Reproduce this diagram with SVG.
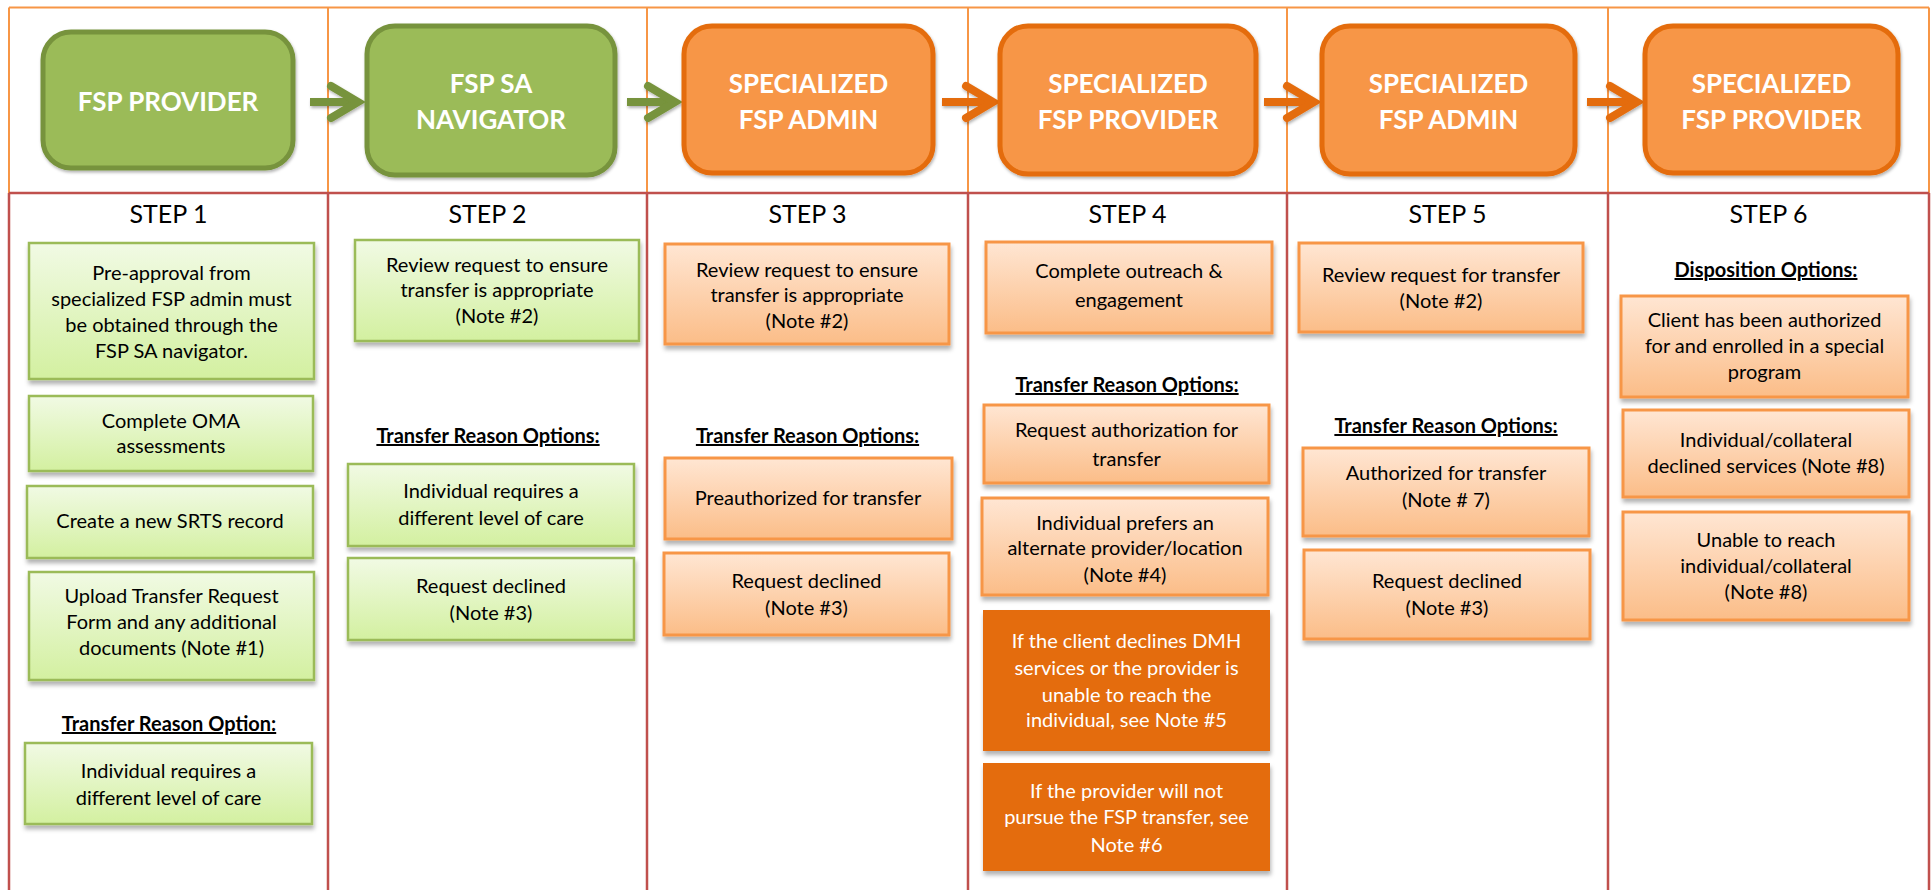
<svg xmlns="http://www.w3.org/2000/svg" width="1931" height="890" viewBox="0 0 1931 890">
<defs>
<linearGradient id="gG" x1="0" y1="0" x2="0" y2="1"><stop offset="0" stop-color="#F1FAE4"/><stop offset="1" stop-color="#D3F0A0"/></linearGradient>
<linearGradient id="gO" x1="0" y1="0" x2="0" y2="1"><stop offset="0" stop-color="#FFE6D3"/><stop offset="1" stop-color="#FBBD88"/></linearGradient>
<filter id="sh" x="-10%" y="-10%" width="120%" height="130%"><feDropShadow dx="1" dy="4" stdDeviation="2" flood-color="#000" flood-opacity="0.3"/></filter>
<filter id="sh2" x="-20%" y="-30%" width="140%" height="160%"><feDropShadow dx="1" dy="2" stdDeviation="1.5" flood-color="#000" flood-opacity="0.3"/></filter>
<filter id="sh3" filterUnits="userSpaceOnUse" x="0" y="0" width="1931" height="200"><feDropShadow dx="1" dy="2" stdDeviation="1.5" flood-color="#000" flood-opacity="0.3"/></filter>
<marker id="mG" markerUnits="userSpaceOnUse" markerWidth="44" markerHeight="44" refX="32" refY="22" orient="auto" overflow="visible"><path d="M5,6 L32,22 L5,38" fill="none" stroke="#77933C" stroke-width="8" stroke-linecap="round"/></marker>
<marker id="mO" markerUnits="userSpaceOnUse" markerWidth="44" markerHeight="44" refX="32" refY="22" orient="auto" overflow="visible"><path d="M5,6 L32,22 L5,38" fill="none" stroke="#E46C0A" stroke-width="8" stroke-linecap="round"/></marker>
</defs>
<style>
.hg{fill:#9BBB59;stroke:#77933C;stroke-width:5}
.ho{fill:#F79646;stroke:#E46C0A;stroke-width:5}
.ht{font-family:Lato,"Liberation Sans",sans-serif;font-weight:bold;font-size:26px;fill:#fff;text-anchor:middle}
.st{font-family:Lato,"Liberation Sans",sans-serif;font-size:25px;fill:#000;text-anchor:middle}
.bg{fill:url(#gG);stroke:#9BBB59;stroke-width:2.5}
.bo{fill:url(#gO);stroke:#F79646;stroke-width:3}
.bd{fill:#E46C0A}
.t{font-family:Lato,"Liberation Sans",sans-serif;font-size:20px;fill:#000;text-anchor:middle}
.tw{fill:#fff}
.lb{font-family:Lato,"Liberation Sans",sans-serif;font-size:20px;font-weight:bold;fill:#000;text-anchor:middle;text-decoration:underline}
.fo{stroke:#F79646;stroke-width:2;fill:none}
.fr{stroke:#C0504D;stroke-width:2.5;fill:none}
.ag{stroke:#77933C;stroke-width:8;fill:none;marker-end:url(#mG)}
.ao{stroke:#E46C0A;stroke-width:8;fill:none;marker-end:url(#mO)}
</style>
<rect width="1931" height="890" fill="#fff"/>
<g id="frame">
<path class="fo" d="M9,7.5 H1929 M9,7.5 V193 M328,7.5 V193 M647,7.5 V193 M968,7.5 V193 M1287,7.5 V193 M1608,7.5 V193 M1929,7.5 V193"/>
<path class="fr" d="M9,193 H1929 M9,193 V890 M328,193 V890 M647,193 V890 M968,193 V890 M1287,193 V890 M1608,193 V890 M1929,193 V890"/>
</g>
<g id="connectors" filter="url(#sh3)">
<path class="ag" d="M310,102 H358"/>
<path class="ag" d="M627,102 H675"/>
<path class="ao" d="M942,102 H993"/>
<path class="ao" d="M1264,102 H1314"/>
<path class="ao" d="M1587,102 H1637"/>
</g>
<g id="h1"><rect class="hg" x="43" y="32" width="250" height="136" rx="28" filter="url(#sh2)"/><text class="ht" x="168" y="111">FSP PROVIDER</text></g>
<g id="h2"><rect class="hg" x="367" y="26" width="248" height="149" rx="28" filter="url(#sh2)"/><text class="ht" x="491" y="93">FSP SA</text><text class="ht" x="491" y="129">NAVIGATOR</text></g>
<g id="h3"><rect class="ho" x="684" y="26" width="249" height="147" rx="28" filter="url(#sh2)"/><text class="ht" x="808.5" y="93">SPECIALIZED</text><text class="ht" x="808.5" y="129">FSP ADMIN</text></g>
<g id="h4"><rect class="ho" x="1000" y="26" width="256" height="148" rx="28" filter="url(#sh2)"/><text class="ht" x="1128" y="93">SPECIALIZED</text><text class="ht" x="1128" y="129">FSP PROVIDER</text></g>
<g id="h5"><rect class="ho" x="1322" y="26" width="253" height="148" rx="28" filter="url(#sh2)"/><text class="ht" x="1448.5" y="93">SPECIALIZED</text><text class="ht" x="1448.5" y="129">FSP ADMIN</text></g>
<g id="h6"><rect class="ho" x="1645" y="26" width="253" height="147" rx="28" filter="url(#sh2)"/><text class="ht" x="1771.5" y="93">SPECIALIZED</text><text class="ht" x="1771.5" y="129">FSP PROVIDER</text></g>
<g id="steps">
<text class="st" x="168.5" y="223">STEP 1</text>
<text class="st" x="487.5" y="223">STEP 2</text>
<text class="st" x="807.5" y="223">STEP 3</text>
<text class="st" x="1127.5" y="223">STEP 4</text>
<text class="st" x="1447.5" y="223">STEP 5</text>
<text class="st" x="1768.5" y="223">STEP 6</text>
</g>
<g id="c1a"><rect class="bg" x="29" y="243" width="285" height="136" filter="url(#sh)"/><text class="t" x="171.5" y="280">Pre-approval from</text><text class="t" x="171.5" y="306">specialized FSP admin must</text><text class="t" x="171.5" y="332">be obtained through the</text><text class="t" x="171.5" y="358">FSP SA navigator.</text></g>
<g id="c1b"><rect class="bg" x="29" y="396" width="284" height="75" filter="url(#sh)"/><text class="t" x="171" y="428">Complete OMA</text><text class="t" x="171" y="453">assessments</text></g>
<g id="c1c"><rect class="bg" x="27" y="486" width="286" height="72" filter="url(#sh)"/><text class="t" x="170" y="528">Create a new SRTS record</text></g>
<g id="c1d"><rect class="bg" x="29" y="572" width="285" height="108" filter="url(#sh)"/><text class="t" x="171.5" y="603">Upload Transfer Request</text><text class="t" x="171.5" y="629">Form and any additional</text><text class="t" x="171.5" y="655">documents (Note #1)</text></g>
<text id="l1" class="lb" x="169" y="731">Transfer Reason Option:</text>
<g id="c1e"><rect class="bg" x="25" y="743" width="287" height="81" filter="url(#sh)"/><text class="t" x="168.5" y="778">Individual requires a</text><text class="t" x="168.5" y="805">different level of care</text></g>
<g id="c2a"><rect class="bg" x="355" y="240" width="284" height="101" filter="url(#sh)"/><text class="t" x="497" y="272">Review request to ensure</text><text class="t" x="497" y="297">transfer is appropriate</text><text class="t" x="497" y="323">(Note #2)</text></g>
<text id="l2" class="lb" x="488" y="443">Transfer Reason Options:</text>
<g id="c2b"><rect class="bg" x="348" y="464" width="286" height="82" filter="url(#sh)"/><text class="t" x="491" y="498">Individual requires a</text><text class="t" x="491" y="525">different level of care</text></g>
<g id="c2c"><rect class="bg" x="348" y="558" width="286" height="82" filter="url(#sh)"/><text class="t" x="491" y="593">Request declined</text><text class="t" x="491" y="620">(Note #3)</text></g>
<g id="c3a"><rect class="bo" x="665" y="244" width="284" height="100" filter="url(#sh)"/><text class="t" x="807" y="277">Review request to ensure</text><text class="t" x="807" y="302">transfer is appropriate</text><text class="t" x="807" y="328">(Note #2)</text></g>
<text id="l3" class="lb" x="807.5" y="443">Transfer Reason Options:</text>
<g id="c3b"><rect class="bo" x="665" y="458" width="287" height="81" filter="url(#sh)"/><text class="t" x="808" y="505">Preauthorized for transfer</text></g>
<g id="c3c"><rect class="bo" x="664" y="553" width="285" height="82" filter="url(#sh)"/><text class="t" x="806.5" y="588">Request declined</text><text class="t" x="806.5" y="615">(Note #3)</text></g>
<g id="c4a"><rect class="bo" x="986" y="242" width="286" height="91" filter="url(#sh)"/><text class="t" x="1129" y="278">Complete outreach &amp;</text><text class="t" x="1129" y="307">engagement</text></g>
<text id="l4" class="lb" x="1127" y="392">Transfer Reason Options:</text>
<g id="c4b"><rect class="bo" x="984" y="405" width="285" height="78" filter="url(#sh)"/><text class="t" x="1126.5" y="437">Request authorization for</text><text class="t" x="1126.5" y="466">transfer</text></g>
<g id="c4c"><rect class="bo" x="982" y="498" width="286" height="97" filter="url(#sh)"/><text class="t" x="1125" y="530">Individual prefers an</text><text class="t" x="1125" y="555">alternate provider/location</text><text class="t" x="1125" y="582">(Note #4)</text></g>
<g id="c4d"><rect class="bd" x="983" y="610" width="287" height="141" filter="url(#sh)"/><text class="t tw" x="1126.5" y="648">If the client declines DMH</text><text class="t tw" x="1126.5" y="675">services or the provider is</text><text class="t tw" x="1126.5" y="702">unable to reach the</text><text class="t tw" x="1126.5" y="727">individual, see Note #5</text></g>
<g id="c4e"><rect class="bd" x="983" y="763" width="287" height="108" filter="url(#sh)"/><text class="t tw" x="1126.5" y="798">If the provider will not</text><text class="t tw" x="1126.5" y="824">pursue the FSP transfer, see</text><text class="t tw" x="1126.5" y="852">Note #6</text></g>
<g id="c5a"><rect class="bo" x="1299" y="243" width="284" height="89" filter="url(#sh)"/><text class="t" x="1441" y="282">Review request for transfer</text><text class="t" x="1441" y="308">(Note #2)</text></g>
<text id="l5" class="lb" x="1446" y="433">Transfer Reason Options:</text>
<g id="c5b"><rect class="bo" x="1303" y="448" width="286" height="88" filter="url(#sh)"/><text class="t" x="1446" y="480">Authorized for transfer</text><text class="t" x="1446" y="507">(Note # 7)</text></g>
<g id="c5c"><rect class="bo" x="1304" y="550" width="286" height="89" filter="url(#sh)"/><text class="t" x="1447" y="588">Request declined</text><text class="t" x="1447" y="615">(Note #3)</text></g>
<text id="l6" class="lb" x="1766" y="277">Disposition Options:</text>
<g id="c6a"><rect class="bo" x="1621" y="296" width="287" height="101" filter="url(#sh)"/><text class="t" x="1764.5" y="327">Client has been authorized</text><text class="t" x="1764.5" y="353">for and enrolled in a special</text><text class="t" x="1764.5" y="379">program</text></g>
<g id="c6b"><rect class="bo" x="1623" y="410" width="286" height="87" filter="url(#sh)"/><text class="t" x="1766" y="447">Individual/collateral</text><text class="t" x="1766" y="473">declined services (Note #8)</text></g>
<g id="c6c"><rect class="bo" x="1623" y="512" width="286" height="108" filter="url(#sh)"/><text class="t" x="1766" y="547">Unable to reach</text><text class="t" x="1766" y="573">individual/collateral</text><text class="t" x="1766" y="599">(Note #8)</text></g>
</svg>
